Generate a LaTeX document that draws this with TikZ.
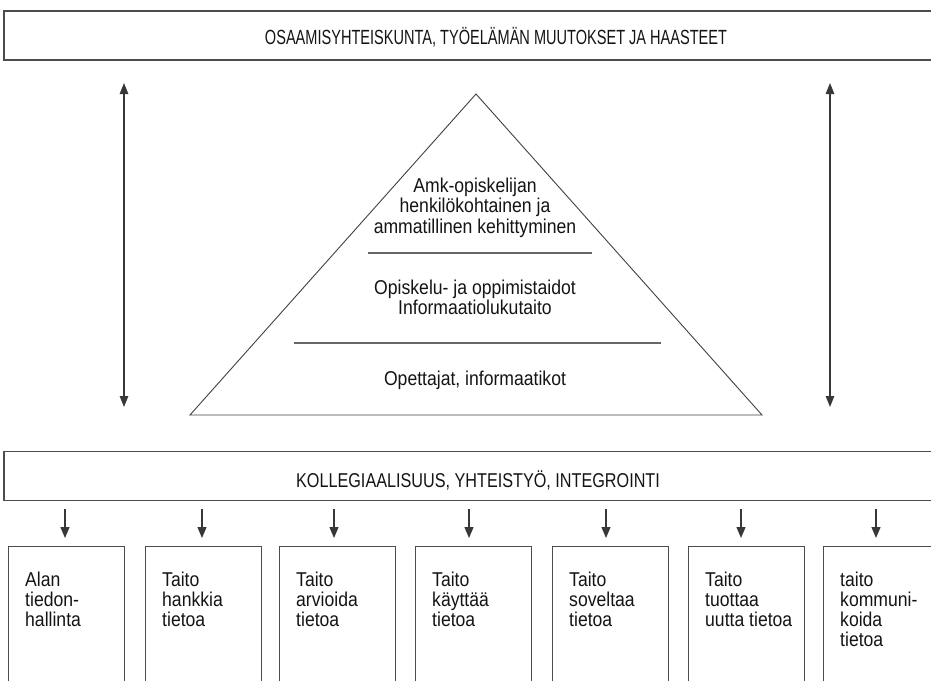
\documentclass[tikz,border=0pt]{standalone}
\usepackage{fontspec}
\setmainfont{Liberation Sans}[FakeStretch=0.88]
\newfontfamily\titlefont{Liberation Sans}[FakeStretch=0.71]
\newfontfamily\bandfont{Liberation Sans}[FakeStretch=0.81]
\usetikzlibrary{arrows.meta}

% invisible strut that fixes the height of a first text line
\newcommand{\toprow}{\rule{0pt}{16pt}}

\begin{document}
\begin{tikzpicture}[x=1pt,y=-1pt,
  frame/.style={draw=black!70, line width=1.3pt},
  banner/.style={frame, minimum height=49pt, inner sep=0pt},
  bantext/.style={anchor=base, inner sep=0pt, text=black!92},
  cell/.style={frame, minimum width=116pt, minimum height=170pt, inner sep=0pt, anchor=north west},
  celltext/.style={anchor=north west, inner sep=0pt, align=left, font=\fontsize{20}{20}\selectfont, text=black!92},
  pyrtext/.style={anchor=north, inner sep=0pt, align=center, font=\fontsize{20}{20.5}\selectfont, text=black!92},
  layer/.style={draw=black!60, line width=1.2pt},
  dbl/.style={draw=black!78, line width=1.3pt, {Triangle[width=8.5pt,length=11pt]}-{Triangle[width=8.5pt,length=11pt]}},
  dn/.style={draw=black!78, line width=1.3pt, -{Triangle[width=9pt,length=11pt]}}
]
\useasboundingbox (0,0) rectangle (931,680);
\clip (0,0) rectangle (931,680);

% headline band
\node[banner, minimum width=992pt] (top) at (500,35.5) {};
\node[bantext, font=\titlefont\fontsize{20.5}{20}\selectfont] (toptext) at (496,44.5) {OSAAMISYHTEISKUNTA, TYÖELÄMÄN MUUTOKSET JA HAASTEET};

% pyramid
\coordinate (apex) at (476,94);
\coordinate (bl) at (190,415);
\coordinate (br) at (762,415);
\draw[draw=black!75, line width=0.9pt, line join=miter] (apex) -- (br) -- (bl) -- cycle;
\coordinate (l1a) at (368,253);
\coordinate (l1b) at (592,253);
\coordinate (l2a) at (294,343);
\coordinate (l2b) at (661,343);
\draw[layer] (l1a) -- (l1b);
\draw[layer] (l2a) -- (l2b);
\node[pyrtext] (p1) at (475,176) {\toprow Amk-opiskelijan\\henkilökohtainen ja\\ammatillinen kehittyminen};
\node[pyrtext] (p2) at (475,278) {\toprow Opiskelu- ja oppimistaidot\\Informaatiolukutaito};
\node[pyrtext] (p3) at (475,369) {\toprow Opettajat, informaatikot};

% side arrows
\coordinate (la1) at (124,83);
\coordinate (la2) at (124,407);
\coordinate (ra1) at (830,83);
\coordinate (ra2) at (830,407);
\draw[dbl] (la1) -- (la2);
\draw[dbl] (ra1) -- (ra2);

% cooperation band
\node[banner, minimum width=992pt] (mid) at (500,476) {};
\node[bantext, font=\bandfont\fontsize{20}{20}\selectfont] (midtext) at (478,487) {KOLLEGIAALISUUS, YHTEISTYÖ, INTEGROINTI};

% skill boxes
\node[cell] (b1) at (8,546) {};
\node[cell] (b2) at (145,546) {};
\node[cell] (b3) at (279,546) {};
\node[cell] (b4) at (415,546) {};
\node[cell] (b5) at (552,546) {};
\node[cell] (b6) at (688,546) {};
\node[cell] (b7) at (823,546) {};

\foreach \i/\txt in {1/{Alan\\tiedon-\\hallinta},
                     2/{Taito\\hankkia\\tietoa},
                     3/{Taito\\arvioida\\tietoa},
                     4/{Taito\\käyttää\\tietoa},
                     5/{Taito\\soveltaa\\tietoa},
                     6/{Taito\\tuottaa\\uutta tietoa},
                     7/{taito\\kommuni-\\koida\\tietoa}} {
  \node[celltext] (t\i) at ([xshift=17pt,yshift=-24pt]b\i.north west) {\toprow\txt};
}

% arrows from the band down to each box
\foreach \i/\x in {1/65, 2/202, 3/334, 4/469, 5/606, 6/741, 7/876} {
  \coordinate (a\i) at (\x,0);
  \draw[dn, shorten <=8pt, shorten >=8pt] (mid.south -| a\i) -- (b\i.north -| a\i);
}
\end{tikzpicture}
\end{document}
